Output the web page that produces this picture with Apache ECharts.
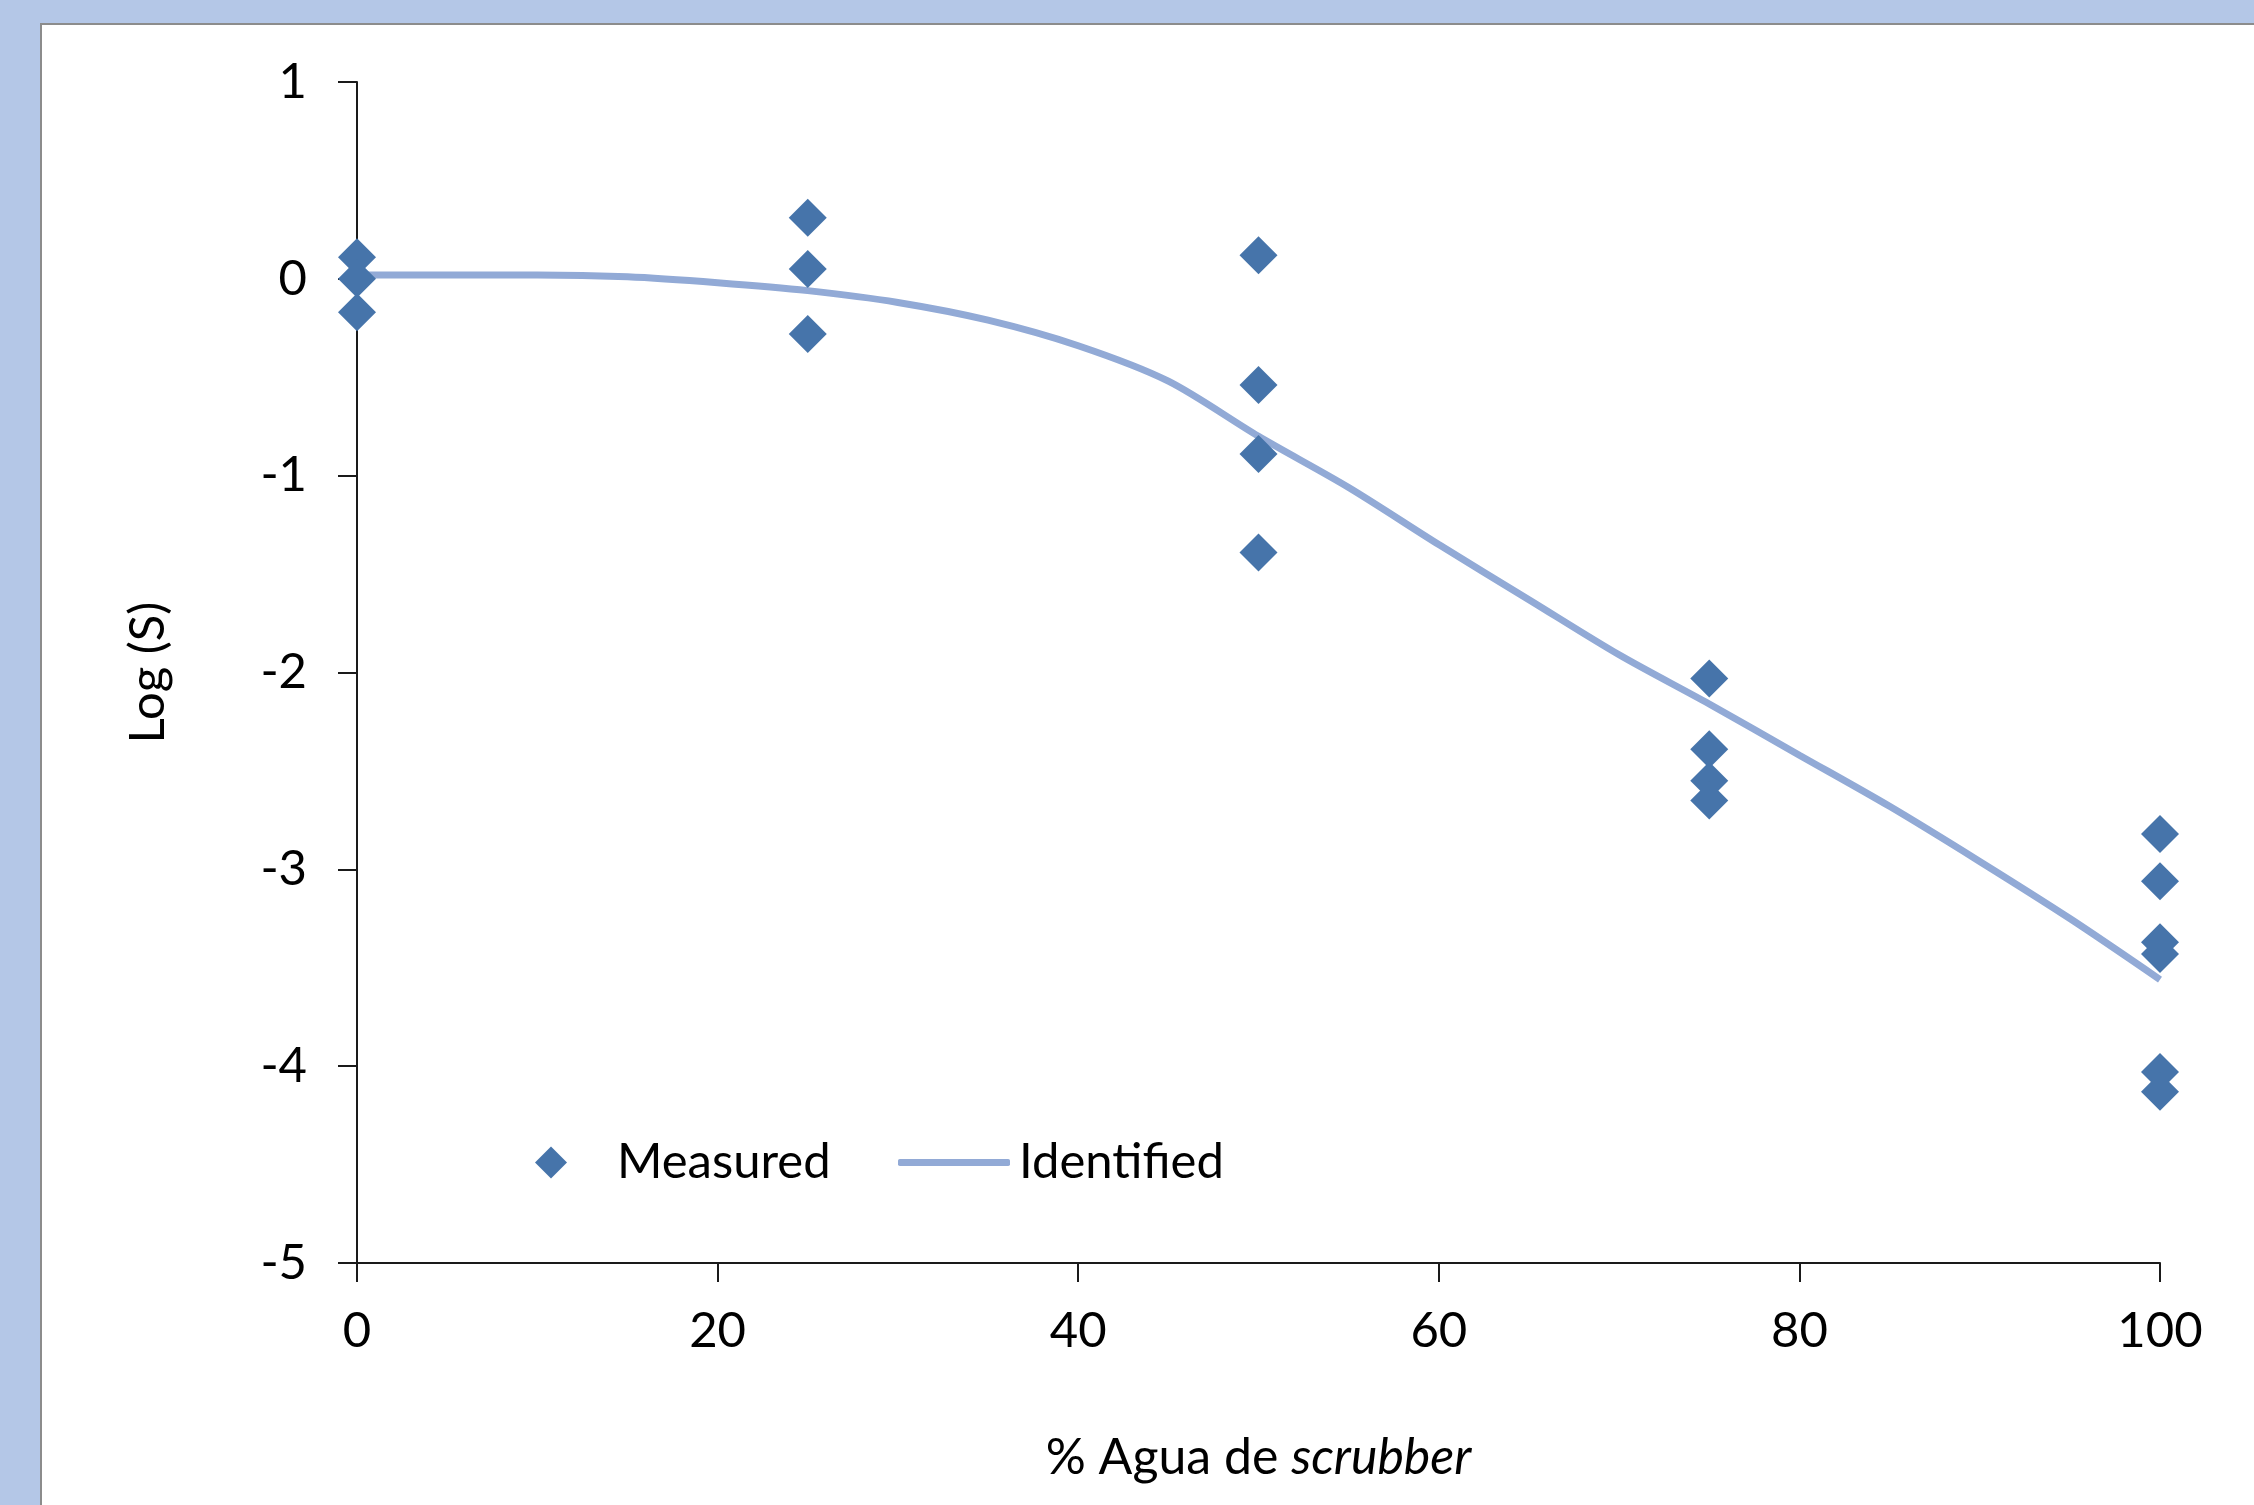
<!DOCTYPE html>
<html>
<head>
  <meta charset="utf-8">
  <title>Log (S) vs % Agua de scrubber</title>
  <script src="https://cdn.jsdelivr.net/npm/echarts@6/dist/echarts.min.js"></script>
  <style>
    html, body {
      margin: 0;
      padding: 0;
      background: #b4c7e7;
    }
    #panel {
      position: absolute;
      left: 40px;
      top: 23px;
      width: 2214px;
      height: 1482px;
      background: #fff;
      border-left: 2px solid #8c8c8c;
      border-top: 2px solid #8c8c8c;
      box-sizing: border-box;
    }
    #main {
      position: absolute;
      left: 0;
      top: 0;
      width: 2254px;
      height: 1505px;
    }
  </style>
</head>
<body>
  <div id="panel"></div>
  <div id="main"></div>
  <script>
    // measured points (% scrubber water, log S)
    var measuredX = [0, 0, 0, 25, 25, 25, 50, 50, 50, 50, 75, 75, 75, 75, 100, 100, 100, 100, 100, 100];
    var measuredY = [0.11, 0.0, -0.17, 0.31, 0.05, -0.28, 0.12, -0.54, -0.89, -1.39,
      -2.03, -2.39, -2.55, -2.65, -2.82, -3.06, -3.37, -3.43, -4.03, -4.13];

    // identified model curve
    var modelX = [0, 5, 10, 15, 20, 25, 30, 35, 40, 45, 50, 55, 60, 65, 70, 75, 80, 85, 90, 95, 100];
    var modelY = [0.02, 0.02, 0.02, 0.01, -0.02, -0.06, -0.12, -0.21, -0.34, -0.52, -0.80,
      -1.06, -1.35, -1.63, -1.91, -2.16, -2.42, -2.68, -2.96, -3.25, -3.56];

    var font = 'Lato';
    var chart = echarts.init(document.getElementById('main'));

    var measured = measuredX.map(function (x, i) { return [x, measuredY[i]]; });
    var model = modelX.map(function (x, i) { return [x, modelY[i]]; });

    var option = {
      animation: false,
      textStyle: { fontFamily: font },
      grid: { left: 357, right: 94, top: 82, bottom: 242 },
      legend: [{
        data: [{ name: 'Measured', icon: 'diamond' }],
        left: 535,
        top: 1138,
        padding: 0,
        itemWidth: 32,
        itemHeight: 32,
        textStyle: { fontSize: 49, color: '#000', fontFamily: font, padding: [0, 0, 0, 45] }
      }, {
        data: [{ name: 'Identified', icon: 'roundRect' }],
        left: 898,
        top: 1138,
        padding: 0,
        itemWidth: 112,
        itemHeight: 7,
        textStyle: { fontSize: 49, color: '#000', fontFamily: font, padding: [0, 0, 0, 4] }
      }],
      xAxis: {
        type: 'value',
        min: 0,
        max: 100,
        interval: 20,
        name: '% Agua de {i|scrubber}',
        nameLocation: 'middle',
        nameGap: 170,
        nameTextStyle: {
          fontSize: 50, color: '#000', fontFamily: font,
          rich: { i: { fontSize: 50, fontStyle: 'italic', color: '#000', fontFamily: font } }
        },
        splitLine: { show: false },
        axisLine: { onZero: false, lineStyle: { color: '#1a1a1a', width: 2 } },
        axisTick: { length: 19, lineStyle: { color: '#1a1a1a', width: 2 } },
        axisLabel: { fontSize: 49, color: '#000', margin: 44 }
      },
      yAxis: {
        type: 'value',
        min: -5,
        max: 1,
        interval: 1,
        name: 'Log (S)',
        nameLocation: 'middle',
        nameGap: 184,
        nameRotate: 90,
        nameTextStyle: { fontSize: 49, color: '#000', fontFamily: font },
        splitLine: { show: false },
        axisLine: { show: true, onZero: false, lineStyle: { color: '#1a1a1a', width: 2 } },
        axisTick: { show: true, length: 19, lineStyle: { color: '#1a1a1a', width: 2 } },
        axisLabel: { fontSize: 49, color: '#000', margin: 50 }
      },
      series: [{
        name: 'Measured',
        type: 'scatter',
        symbol: 'diamond',
        symbolSize: 38,
        z: 3,
        itemStyle: { color: '#4674aa', opacity: 1 },
        data: measured
      }, {
        name: 'Identified',
        type: 'line',
        symbol: 'none',
        smooth: 0.3,
        z: 2,
        lineStyle: { color: '#92aad6', width: 7 },
        itemStyle: { color: '#92aad6' },
        data: model
      }]
    };
    chart.setOption(option);
  </script>
</body>
</html>
